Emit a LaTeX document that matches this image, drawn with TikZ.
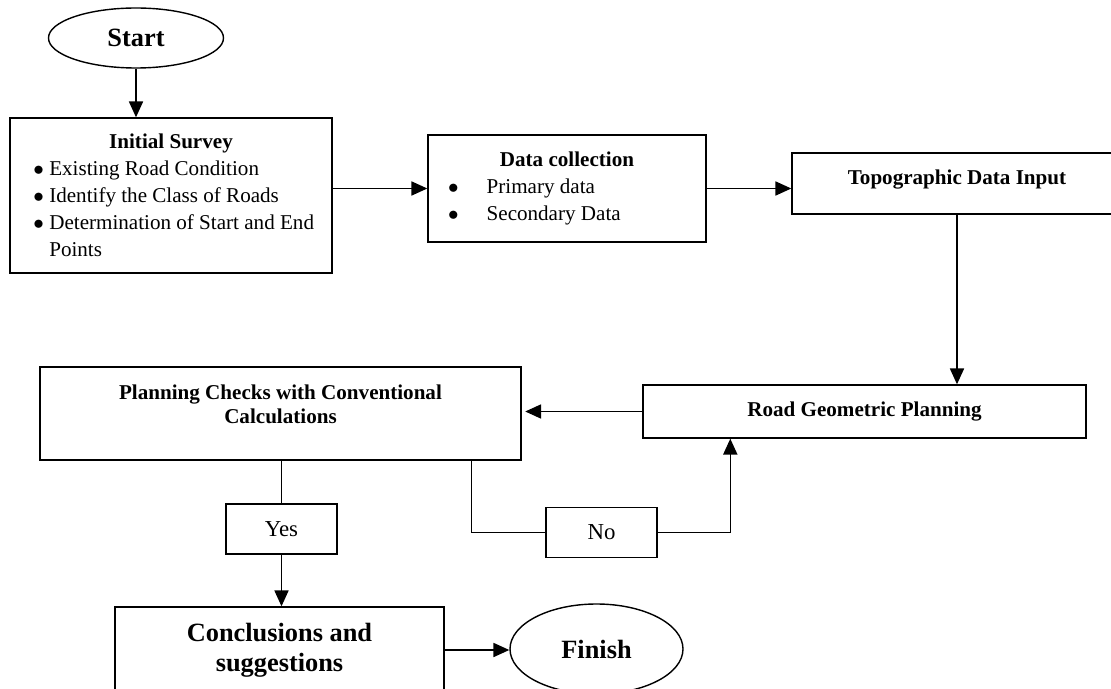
\documentclass[tikz,border=0pt]{standalone}
\usepackage{fontspec}
\setmainfont{Liberation Serif}
\usetikzlibrary{arrows.meta, positioning, shapes.geometric, calc}
\newcommand{\blt}{$\bullet$}
\newcommand{\lift}[1]{\rule[-#1]{0pt}{0pt}}
\tikzset{
  every picture/.style={line width=0.8pt},
  box/.style={draw, rectangle, align=center, inner sep=4pt},
  oval/.style={draw, ellipse, inner sep=2pt, font=\fontsize{15}{18}\selectfont\bfseries},
  arrow/.style={-{Triangle[length=9pt, width=8pt]}},
  title/.style={font=\fontsize{12}{14}\selectfont\bfseries},
  choice/.style={box, font=\fontsize{13}{15}\selectfont, minimum width=2.22cm, minimum height=1cm},
}

\begin{document}
\begin{tikzpicture}[every node/.append style={font=\fontsize{12}{15.4}\selectfont}]
  \useasboundingbox (0,0) rectangle (22.22,13.76);
  \node[oval, minimum width=3.5cm, minimum height=1.2cm] (start) at (2.72,13.0) {Start};
  \node[box, minimum width=6.44cm, minimum height=3.1cm] (survey) at (3.42,9.85)
    {\textbf{Initial Survey}\\
     \makebox[5.5cm][l]{\blt\hspace{3pt}Existing Road Condition}\\
     \makebox[5.5cm][l]{\blt\hspace{3pt}Identify the Class of Roads}\\
     \makebox[5.5cm][l]{\blt\hspace{3pt}Determination of Start and End}\\
     \makebox[5.5cm][l]{\phantom{\blt}\hspace{3pt}Points}};
  \node[box, minimum width=5.56cm, minimum height=2.14cm] (data) at (11.34,9.99)
    {\textbf{Data collection}\\
     \makebox[4.76cm][l]{\blt\hspace{16pt}Primary data}\\
     \makebox[4.76cm][l]{\blt\hspace{16pt}Secondary Data}};
  \node[box, title, minimum width=6.6cm, minimum height=1.22cm] (topo) at (19.14,10.09) {Topographic Data Input\lift{7pt}};
  \node[box, title, minimum width=8.86cm, minimum height=1.06cm] (geo) at (17.29,5.53) {Road Geometric Planning};
  \node[box, title, minimum width=9.62cm, minimum height=1.86cm] (plan) at (5.61,5.49)
    {Planning Checks with Conventional\\ Calculations\lift{10.5pt}};
  \node[choice] (yes) at (5.63,3.18) {Yes};
  \node[choice] (no) at (12.03,3.11) {No};
  \node[box, font=\fontsize{15}{17}\selectfont\bfseries, minimum width=6.58cm, minimum height=1.72cm] (concl) at (5.59,0.76)
    {Conclusions and\\ suggestions};
  \node[oval, minimum width=3.46cm, minimum height=1.8cm] (finish) at (11.93,0.78) {Finish};
  % connectors
  \draw[arrow] (start.south) -- (start.south |- survey.north);
  \draw[arrow] (data.west -| survey.east) -- (data.west);
  \draw[arrow] (data.east) -- (data.east -| topo.west);
  \draw[arrow] (topo.south) -- (topo.south |- geo.north);
  \draw[arrow, shorten >=2pt] (geo.west) -- (geo.west -| plan.east);
  \draw (yes.north |- plan.south) -- (yes.north);
  \draw[arrow] (yes.south) -- (yes.south |- concl.north);
  \draw ([xshift=-1cm]plan.south east) |- (no.west);
  \draw[arrow] (no.east) -| ([xshift=1.76cm]geo.south west);
  \draw[arrow] (concl.east) -- (concl.east -| finish.west);
\end{tikzpicture}
\end{document}
